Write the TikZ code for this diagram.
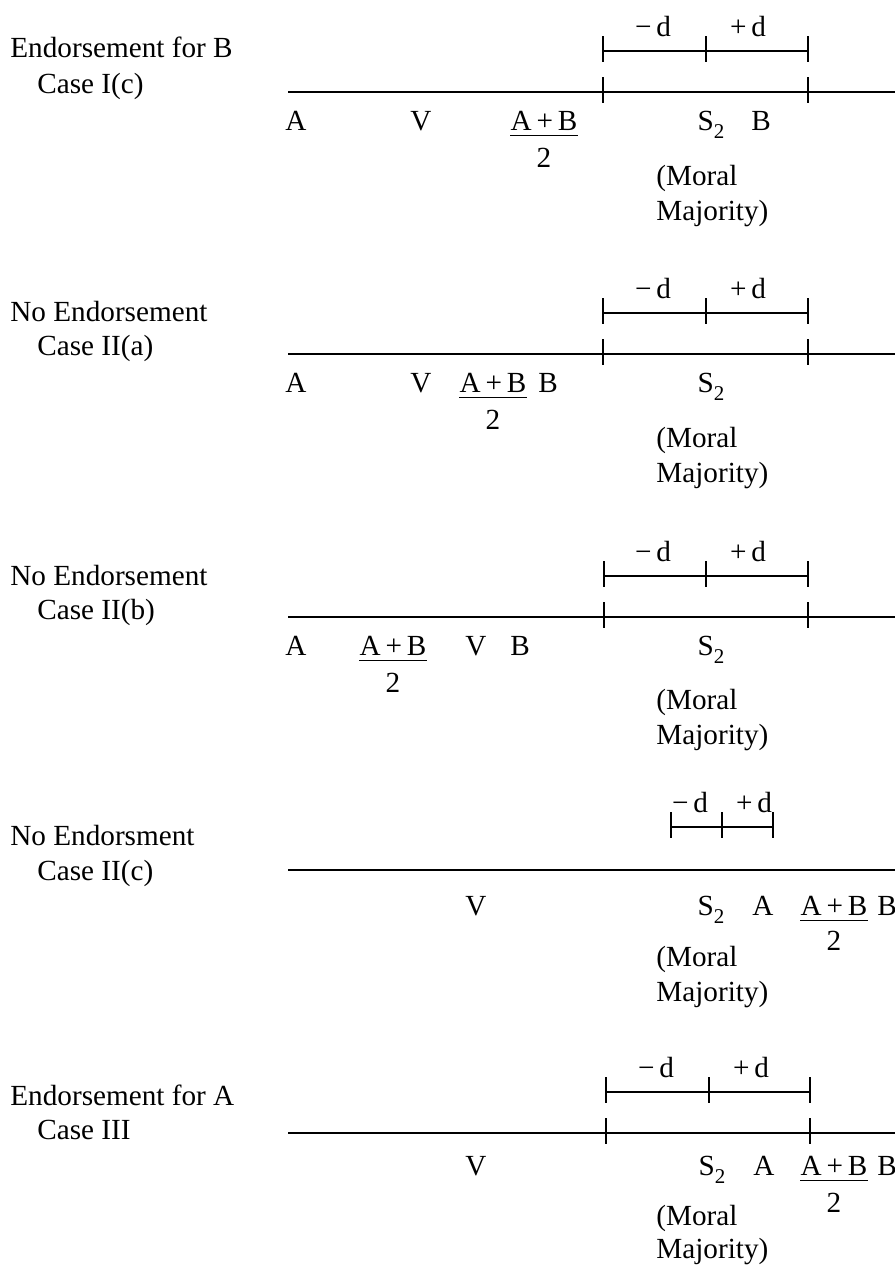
\documentclass[tikz,border=0pt]{standalone}
\usepackage{fontspec}
\setmainfont{Liberation Serif}
\newcommand{\Stwo}{S\lower4pt\hbox{\fontsize{10.5}{10.5}\selectfont 2}}

\begin{document}
\begin{tikzpicture}[x=0.5pt, y=-0.5pt,
  every node/.style={font=\fontsize{14.6}{17}\selectfont},
  lbl/.style={anchor=base, inner sep=0pt},
  note/.style={anchor=base west, inner sep=0pt},
  axis/.style={line width=0.7pt},
  tickline/.style={line width=0.7pt},
  bar/.style={line width=0.6pt}
]
\useasboundingbox (0,0) rectangle (895,1265);

% Endorsement for B
\begin{scope}[shift={(0,92)}]
\node[note] (head1) at (10,-34.5) {Endorsement for B};
\node[note] (case1) at (37,1.5) {Case I(c)};
\coordinate (ax1l) at (288,0);
\coordinate (ax1r) at (895,0);
\coordinate (tk1l) at (603,0);
\coordinate (tk1r) at (808,0);
\coordinate (br1l) at (603,-41);
\coordinate (br1m) at (706,-41);
\coordinate (br1r) at (808,-41);
\draw[axis] (ax1l) -- (ax1r);
\draw[axis] (br1l) -- (br1r);
\foreach \c in {tk1l,tk1r,br1l,br1m,br1r}
  \draw[tickline] (\c) ++(0,-15) -- ++(0,26);
\node[lbl] (md1) at (653,-56) {−\,d};
\node[lbl] (pd1) at (748,-56) {+\,d};
\node[lbl] (a1) at (296,38) {A};
\node[lbl] (v1) at (421,38) {V};
\node[lbl] (ab1) at (544,38) {A\,+\,B};
\node[lbl] (two1) at (544,75) {2};
\draw[bar] ([yshift=-2.5pt]ab1.south west) -- ([yshift=-2.5pt]ab1.south east);
\node[lbl] (s1) at (711,38) {\Stwo};
\node[lbl] (b1) at (761,38) {B};
\node[note] (mor1) at (656,93) {(Moral};
\node[note] (maj1) at (656,128) {Majority)};
\end{scope}

% No Endorsement, II(a)
\begin{scope}[shift={(0,354)}]
\node[note] (head2) at (10,-32.5) {No Endorsement};
\node[note] (case2) at (37,1.5) {Case II(a)};
\coordinate (ax2l) at (288,0);
\coordinate (ax2r) at (895,0);
\coordinate (tk2l) at (603,0);
\coordinate (tk2r) at (808,0);
\coordinate (br2l) at (603,-41);
\coordinate (br2m) at (706,-41);
\coordinate (br2r) at (808,-41);
\draw[axis] (ax2l) -- (ax2r);
\draw[axis] (br2l) -- (br2r);
\foreach \c in {tk2l,tk2r,br2l,br2m,br2r}
  \draw[tickline] (\c) ++(0,-15) -- ++(0,26);
\node[lbl] (md2) at (653,-56) {−\,d};
\node[lbl] (pd2) at (748,-56) {+\,d};
\node[lbl] (a2) at (296,38) {A};
\node[lbl] (v2) at (421,38) {V};
\node[lbl] (ab2) at (493,38) {A\,+\,B};
\node[lbl] (two2) at (493,75) {2};
\draw[bar] ([yshift=-2.5pt]ab2.south west) -- ([yshift=-2.5pt]ab2.south east);
\node[lbl] (b2) at (548,38) {B};
\node[lbl] (s2) at (711,38) {\Stwo};
\node[note] (mor2) at (656,93) {(Moral};
\node[note] (maj2) at (656,128) {Majority)};
\end{scope}

% No Endorsement, II(b)
\begin{scope}[shift={(0,617)}]
\node[note] (head3) at (10,-31.5) {No Endorsement};
\node[note] (case3) at (37,2.5) {Case II(b)};
\coordinate (ax3l) at (288,0);
\coordinate (ax3r) at (895,0);
\coordinate (tk3l) at (604,0);
\coordinate (tk3r) at (808,0);
\coordinate (br3l) at (604,-41);
\coordinate (br3m) at (706,-41);
\coordinate (br3r) at (808,-41);
\draw[axis] (ax3l) -- (ax3r);
\draw[axis] (br3l) -- (br3r);
\foreach \c in {tk3l,tk3r,br3l,br3m,br3r}
  \draw[tickline] (\c) ++(0,-15) -- ++(0,26);
\node[lbl] (md3) at (653,-56) {−\,d};
\node[lbl] (pd3) at (748,-56) {+\,d};
\node[lbl] (a3) at (296,38) {A};
\node[lbl] (ab3) at (393,38) {A\,+\,B};
\node[lbl] (two3) at (393,75) {2};
\draw[bar] ([yshift=-2.5pt]ab3.south west) -- ([yshift=-2.5pt]ab3.south east);
\node[lbl] (v3) at (476,38) {V};
\node[lbl] (b3) at (520,38) {B};
\node[lbl] (s3) at (711,38) {\Stwo};
\node[note] (mor3) at (656,92) {(Moral};
\node[note] (maj3) at (656,127) {Majority)};
\end{scope}

% No Endorsment, II(c)
\begin{scope}[shift={(0,870)}]
\node[note] (head4) at (10,-24.5) {No Endorsment};
\node[note] (case4) at (37,10.5) {Case II(c)};
\coordinate (ax4l) at (288,0);
\coordinate (ax4r) at (895,0);
\coordinate (br4l) at (671,-43);
\coordinate (br4m) at (722,-43);
\coordinate (br4r) at (773,-43);
\draw[axis] (ax4l) -- (ax4r);
\draw[axis] (br4l) -- (br4r);
\foreach \c in {br4l,br4m,br4r}
  \draw[tickline] (\c) ++(0,-15) -- ++(0,26);
\node[lbl] (md4) at (690,-58) {−\,d};
\node[lbl] (pd4) at (754,-58) {+\,d};
\node[lbl] (v4) at (476,45) {V};
\node[lbl] (s4) at (711,45) {\Stwo};
\node[lbl] (a4) at (763,45) {A};
\node[lbl] (ab4) at (834,45) {A\,+\,B};
\node[lbl] (two4) at (834,80) {2};
\draw[bar] ([yshift=-2.5pt]ab4.south west) -- ([yshift=-2.5pt]ab4.south east);
\node[lbl] (b4) at (887,45) {B};
\node[note] (mor4) at (656,96) {(Moral};
\node[note] (maj4) at (656,131) {Majority)};
\end{scope}

% Endorsement for A
\begin{scope}[shift={(0,1133)}]
\node[note] (head5) at (10,-27.5) {Endorsement for A};
\node[note] (case5) at (37,6.5) {Case III};
\coordinate (ax5l) at (288,0);
\coordinate (ax5r) at (895,0);
\coordinate (tk5l) at (606,0);
\coordinate (tk5r) at (810,0);
\coordinate (br5l) at (606,-41);
\coordinate (br5m) at (709,-41);
\coordinate (br5r) at (810,-41);
\draw[axis] (ax5l) -- (ax5r);
\draw[axis] (br5l) -- (br5r);
\foreach \c in {tk5l,tk5r,br5l,br5m,br5r}
  \draw[tickline] (\c) ++(0,-15) -- ++(0,26);
\node[lbl] (md5) at (656,-56) {−\,d};
\node[lbl] (pd5) at (751,-56) {+\,d};
\node[lbl] (v5) at (476,42) {V};
\node[lbl] (s5) at (712,42) {\Stwo};
\node[lbl] (a5) at (764,42) {A};
\node[lbl] (ab5) at (834,42) {A\,+\,B};
\node[lbl] (two5) at (834,79) {2};
\draw[bar] ([yshift=-2.5pt]ab5.south west) -- ([yshift=-2.5pt]ab5.south east);
\node[lbl] (b5) at (887,42) {B};
\node[note] (mor5) at (656,92) {(Moral};
\node[note] (maj5) at (656,125) {Majority)};
\end{scope}
\end{tikzpicture}
\end{document}
